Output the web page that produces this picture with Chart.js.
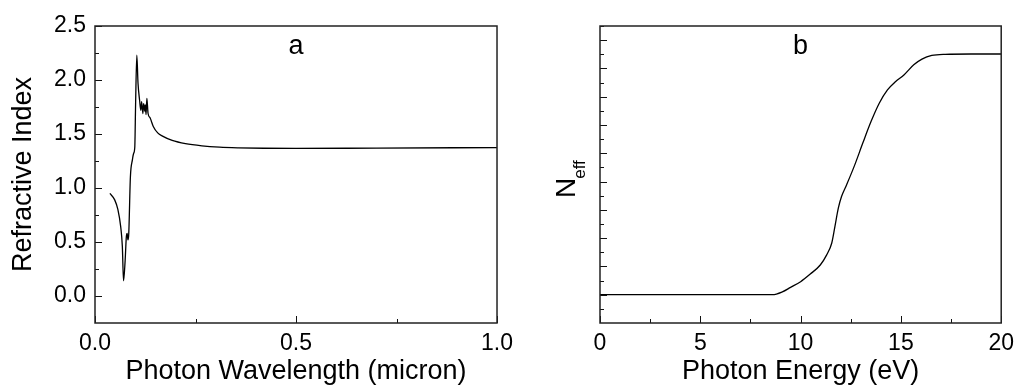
<!DOCTYPE html>
<html lang="en">
<head>
  <meta charset="UTF-8" />
  <title>Refractive Index and Neff</title>
  <script src="https://cdn.jsdelivr.net/npm/chart.js"></script>
  <style>
    body {
      margin: 0;
      background: #fff;
      width: 1021px;
      height: 388px;
      overflow: hidden;
      position: relative;
      font-family: 'Liberation Sans', Arial, sans-serif;
    }
    #chartA { position: absolute; left: 0; top: 0; }
    #chartB { position: absolute; left: 520px; top: 0; }
  </style>
</head>
<body>
  <canvas id="chartA" width="520" height="388"></canvas>
  <canvas id="chartB" width="501" height="388"></canvas>

  <script>
    // panel a: refractive index vs wavelength
    const waveA = [0.037, 0.049, 0.057, 0.064, 0.068, 0.071, 0.075, 0.078, 0.080, 0.082, 0.084, 0.088,
      0.093, 0.096, 0.099, 0.101, 0.104, 0.107, 0.111, 0.114, 0.116, 0.119, 0.121, 0.124, 0.125, 0.127,
      0.129, 0.132, 0.137, 0.145, 0.156, 0.168, 0.192, 0.225, 0.266, 0.31, 0.356, 0.42, 0.5, 0.7, 1.0];
    const indexA = [0.95, 0.89, 0.80, 0.64, 0.46, 0.14, 0.33, 0.55, 0.58, 0.52, 0.58, 1.10,
      1.26, 1.32, 1.38, 1.78, 2.23, 1.97, 1.81, 1.72, 1.80, 1.69, 1.78, 1.71, 1.77, 1.68,
      1.83, 1.69, 1.65, 1.57, 1.51, 1.48, 1.44, 1.41, 1.39, 1.378, 1.372, 1.368, 1.366, 1.37, 1.374];
    const xTicksA = [0.0, 0.5, 1.0];
    const xMinorA = [0.25, 0.75];
    const yTicksA = [0.0, 0.5, 1.0, 1.5, 2.0, 2.5];
    const yMinorA = [0.25, 0.75, 1.25, 1.75, 2.25];

    // panel b: effective number of electrons vs photon energy
    const energyB = [0, 4, 8.6, 9.09, 9.5, 10.0, 10.48, 10.98, 11.3, 11.55, 11.71, 11.88, 12.04, 12.29,
      12.7, 13.1, 13.51, 13.92, 14.33, 14.74, 15.15, 15.64, 16.05, 16.54, 17.2, 18.5, 20];
    const neffB = [1.0, 1.0, 1.0, 1.1, 1.26, 1.46, 1.73, 2.05, 2.41, 2.82, 3.41, 4.06, 4.47, 4.88,
      5.59, 6.36, 7.12, 7.77, 8.24, 8.54, 8.77, 9.13, 9.33, 9.46, 9.5, 9.51, 9.51];
    const xTicksB = [0, 5, 10, 15, 20];
    const xMinorB = [2.5, 7.5, 12.5, 17.5];
    const yTicksB = [1, 2, 3, 4, 5, 6, 7, 8, 9, 10];
    const yMinorB = [0.5, 1.5, 2.5, 3.5, 4.5, 5.5, 6.5, 7.5, 8.5, 9.5, 10.5];

    const FONT = "'Liberation Sans', Arial, sans-serif";

    // box frame + inward ticks + panel letter
    const frameTicks = {
      id: 'frameTicks',
      afterDraw(chart, args, opts) {
        const { ctx, chartArea: a, scales } = chart;
        ctx.save();
        ctx.strokeStyle = '#111';
        ctx.lineWidth = 1;
        ctx.beginPath();
        const tick = (vals, len, axis) => {
          vals.forEach(v => {
            if (axis === 'x') {
              const px = Math.round(scales.x.getPixelForValue(v)) + 0.5;
              ctx.moveTo(px, a.bottom);
              ctx.lineTo(px, a.bottom - len);
            } else {
              const py = Math.round(scales.y.getPixelForValue(v)) + 0.5;
              ctx.moveTo(a.left, py);
              ctx.lineTo(a.left + len, py);
            }
          });
        };
        tick(opts.xMajor, 7, 'x');
        tick(opts.xMinor, 4, 'x');
        tick(opts.yMajor, 7, 'y');
        tick(opts.yMinor, 4, 'y');
        ctx.stroke();

        ctx.lineWidth = 1.5;
        ctx.strokeStyle = '#222';
        ctx.strokeRect(a.left, a.top, a.right - a.left, a.bottom - a.top);

        ctx.fillStyle = '#000';
        ctx.font = '27px ' + FONT;
        ctx.textAlign = 'center';
        ctx.textBaseline = 'alphabetic';
        ctx.fillText(opts.letter, scales.x.getPixelForValue(opts.letterAt), a.top + 28);

        if (opts.neff) {
          ctx.translate(55, 198);
          ctx.rotate(-Math.PI / 2);
          ctx.textAlign = 'left';
          ctx.font = '28px ' + FONT;
          ctx.fillText('N', 0, 0);
          const w = ctx.measureText('N').width;
          ctx.font = '17px ' + FONT;
          ctx.fillText('eff', w - 1, 10);
        }
        ctx.restore();
      }
    };

    function axisX(min, max, ticks, fmt, title) {
      return {
        type: 'linear',
        min: min,
        max: max,
        afterBuildTicks: s => { s.ticks = ticks.map(v => ({ value: v })); },
        afterFit: s => { s.height = 65; },
        grid: { display: false, drawTicks: false },
        border: { display: false },
        ticks: {
          color: '#000',
          font: { family: FONT, size: 23 },
          padding: 7,
          maxRotation: 0,
          autoSkip: false,
          callback: fmt
        },
        title: {
          display: true,
          text: title,
          color: '#000',
          font: { family: FONT, size: 27 },
          padding: { top: 0, bottom: 0 }
        }
      };
    }

    new Chart(document.getElementById('chartA'), {
      type: 'line',
      data: {
        datasets: [{
          data: waveA.map((x, i) => ({ x: x, y: indexA[i] })),
          borderColor: '#000',
          borderWidth: 1.3,
          pointRadius: 0,
          cubicInterpolationMode: 'monotone'
        }]
      },
      options: {
        responsive: false,
        animation: false,
        layout: { padding: { left: 0, right: 18, top: 26, bottom: 0 } },
        plugins: {
          legend: { display: false },
          tooltip: { enabled: false },
          frameTicks: { xMajor: xTicksA, xMinor: xMinorA, yMajor: yTicksA, yMinor: yMinorA, letter: 'a', letterAt: 0.5 }
        },
        scales: {
          x: axisX(0, 1, xTicksA, v => v.toFixed(1), 'Photon Wavelength (micron)'),
          y: {
            type: 'linear',
            min: -0.25,
            max: 2.5,
            afterBuildTicks: s => { s.ticks = yTicksA.map(v => ({ value: v })); },
            afterFit: s => { s.width = 95; },
            grid: { display: false, drawTicks: false },
            border: { display: false },
            ticks: {
              color: '#000',
              font: { family: FONT, size: 23 },
              padding: 9,
              callback: v => v.toFixed(1)
            },
            title: {
              display: true,
              text: 'Refractive Index',
              color: '#000',
              font: { family: FONT, size: 27 },
              padding: { top: 7, bottom: 0 }
            }
          }
        }
      },
      plugins: [frameTicks]
    });

    new Chart(document.getElementById('chartB'), {
      type: 'line',
      data: {
        datasets: [{
          data: energyB.map((x, i) => ({ x: x, y: neffB[i] })),
          borderColor: '#000',
          borderWidth: 1.3,
          pointRadius: 0,
          cubicInterpolationMode: 'monotone'
        }]
      },
      options: {
        responsive: false,
        animation: false,
        layout: { padding: { left: 0, right: 14, top: 26, bottom: 0 } },
        plugins: {
          legend: { display: false },
          tooltip: { enabled: false },
          frameTicks: { xMajor: xTicksB, xMinor: xMinorB, yMajor: yTicksB, yMinor: yMinorB, letter: 'b', letterAt: 10, neff: true }
        },
        scales: {
          x: axisX(0, 20, xTicksB, v => String(v), 'Photon Energy (eV)'),
          y: {
            type: 'linear',
            min: 0,
            max: 10.5,
            afterFit: s => { s.width = 80; },
            grid: { display: false, drawTicks: false },
            border: { display: false },
            ticks: { display: false }
          }
        }
      },
      plugins: [frameTicks]
    });
  </script>
</body>
</html>
